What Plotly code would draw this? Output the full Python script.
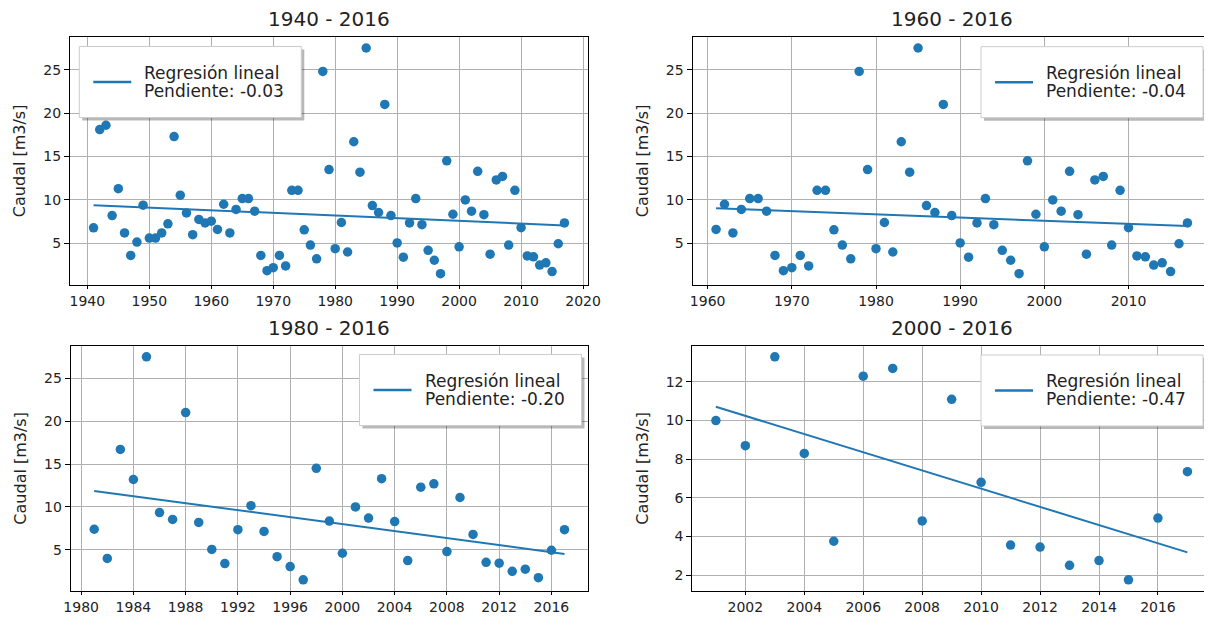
import numpy as np
import plotly.graph_objects as go

# ---------------- data ----------------
years = list(range(1941, 2018))
caudal = [
    6.78, 18.1, 18.6, 8.2, 11.3, 6.2, 3.6, 5.15, 9.4, 5.6,      # 1941-1950
    5.6, 6.2, 7.25, 17.3, 10.55, 8.5, 6.0, 7.75, 7.35, 7.55,    # 1951-1960
    6.6, 9.5, 6.2, 8.9, 10.15, 10.15, 8.7, 3.6, 1.85, 2.2,      # 1961-1970
    3.6, 2.4, 11.1, 11.1, 6.55, 4.8, 3.22, 24.8, 13.5, 4.38,    # 1971-1980
    7.4, 4.0, 16.7, 13.2, 27.5, 9.35, 8.55, 21.0, 8.2, 5.05,    # 1981-1990
    3.4, 7.35, 10.15, 7.15, 4.2, 3.05, 1.5, 14.5, 8.35, 4.6,    # 1991-2000
    10.0, 8.7, 13.3, 8.3, 3.75, 12.3, 12.7, 4.8, 11.1, 6.8,     # 2001-2010
    3.55, 3.45, 2.5, 2.75, 1.75, 4.95, 7.35,                    # 2011-2017
]
start_years = [1941, 1961, 1981, 2001]
titles = ["1940 - 2016", "1960 - 2016", "1980 - 2016", "2000 - 2016"]
x_tick_steps = [10, 10, 4, 2]
y_tick_steps = [5, 5, 5, 2]
legend_label = "Regresión lineal"
slope_prefix = "Pendiente: "
y_label = "Caudal [m3/s]"

# ---------------- layout constants (page pixels) ----------------
PAGE_OFF = 8               # default body margin of the html page
FW, FH = 1204, 608         # figure size
BLUE = "#1f77b4"
FONT = "DejaVu Sans"
TXT = "#222222"


def px(p):
    return (p - PAGE_OFF) / FW


def py(p):
    return 1 - (p - PAGE_OFF) / FH


panel_box = [  # left, right, top, bottom in page px
    (70, 588, 36.7, 285), (692.5, 1211, 36.7, 285),
    (70.7, 588, 345.7, 591), (692.3, 1211, 345.7, 591),
]
title_center_y = [19, 19, 328, 328]
legend_box = [  # left, top in page px
    (79.3, 46.5), (981, 46.7), (359.5, 354.5), (981, 355),
]
LEG_W, LEG_H = 222, 71

fig = go.Figure()
yrs = np.array(years, dtype=float)
vals = np.array(caudal, dtype=float)

layout = dict(
    width=FW, height=FH, margin=dict(l=0, r=0, t=0, b=0),
    paper_bgcolor="white", plot_bgcolor="white",
    font=dict(family=FONT, color=TXT),
    template="none", annotations=[], shapes=[], showlegend=False,
)

for i, (sy, title) in enumerate(zip(start_years, titles)):
    n = "" if i == 0 else str(i + 1)
    mask = yrs >= sy
    x = yrs[mask]
    y = vals[mask]
    slope, intercept = np.polyfit(x, y, 1)
    fit = slope * x + intercept

    fig.add_trace(go.Scatter(
        x=x, y=y, mode="markers", xaxis=f"x{n}", yaxis=f"y{n}",
        marker=dict(color=BLUE, size=9.5, line=dict(width=0)),
        name="Caudal", hoverinfo="x+y",
    ))
    fig.add_trace(go.Scatter(
        x=[x[0], x[-1]], y=[fit[0], fit[-1]], mode="lines", xaxis=f"x{n}", yaxis=f"y{n}",
        line=dict(color=BLUE, width=2),
        name=f"{legend_label} {slope_prefix}{slope:.2f}",
    ))

    xr = x.max() - x.min()
    x_range = [x.min() - 0.05 * xr, x.max() + 0.05 * xr]
    yr = y.max() - y.min()
    y_range = [y.min() - 0.05 * yr, y.max() + 0.05 * yr]
    st = x_tick_steps[i]
    xt = np.arange(np.ceil(x_range[0] / st) * st, x_range[1] + 1e-9, st)
    sty = y_tick_steps[i]
    yt = np.arange(np.ceil(y_range[0] / sty) * sty, y_range[1] + 1e-9, sty)

    l, r, t, b = panel_box[i]
    axis_common = dict(
        showline=True, linecolor="#000000", linewidth=1, mirror=True,
        ticks="outside", tickwidth=1, tickcolor="#000000",
        showgrid=True, gridcolor="#b0b0b0", gridwidth=1, zeroline=False,
        tickfont=dict(family=FONT, size=14, color=TXT), automargin=False,
    )
    layout[f"xaxis{n}"] = dict(
        axis_common, domain=[px(l), px(r)], anchor=f"y{n}", range=x_range, ticklen=3,
        tickvals=list(xt), ticktext=[str(int(v)) for v in xt],
    )
    layout[f"yaxis{n}"] = dict(
        axis_common, domain=[py(b), py(t)], anchor=f"x{n}", range=y_range, ticklen=5,
        tickvals=list(yt), ticktext=[str(int(v)) for v in yt],
        title=dict(text=y_label, font=dict(family=FONT, size=16, color=TXT), standoff=13),
    )
    layout["annotations"].append(dict(
        text=title, xref="paper", yref="paper",
        x=(px(l) + px(r)) / 2, y=py(title_center_y[i]),
        xanchor="center", yanchor="middle", showarrow=False,
        font=dict(family=FONT, size=20, color=TXT),
    ))

    # legend box (matplotlib style, with shadow)
    lx, ly = legend_box[i]
    layout["shapes"].append(dict(
        type="rect", xref="paper", yref="paper", layer="above",
        x0=px(lx + 3), x1=px(lx + LEG_W + 3), y0=py(ly + LEG_H + 3), y1=py(ly + 3),
        fillcolor="rgba(0,0,0,0.28)", line=dict(width=0),
    ))
    layout["shapes"].append(dict(
        type="rect", xref="paper", yref="paper", layer="above",
        x0=px(lx), x1=px(lx + LEG_W), y0=py(ly + LEG_H), y1=py(ly),
        fillcolor="white", line=dict(color="#cccccc", width=1),
    ))
    layout["shapes"].append(dict(
        type="line", xref="paper", yref="paper", layer="above",
        x0=px(lx + 14), x1=px(lx + 52), y0=py(ly + 35.5), y1=py(ly + 35.5),
        line=dict(color=BLUE, width=2.5),
    ))
    for k, line_txt in enumerate([legend_label, f"{slope_prefix}{slope:.2f}"]):
        layout["annotations"].append(dict(
            text=line_txt, xref="paper", yref="paper",
            x=px(lx + 63), y=py(ly + 26 + 18.3 * k),
            xanchor="left", yanchor="middle", showarrow=False, align="left",
            font=dict(family=FONT, size=17, color=TXT),
        ))

fig.update_layout(**layout)
fig.write_html("out.html")
